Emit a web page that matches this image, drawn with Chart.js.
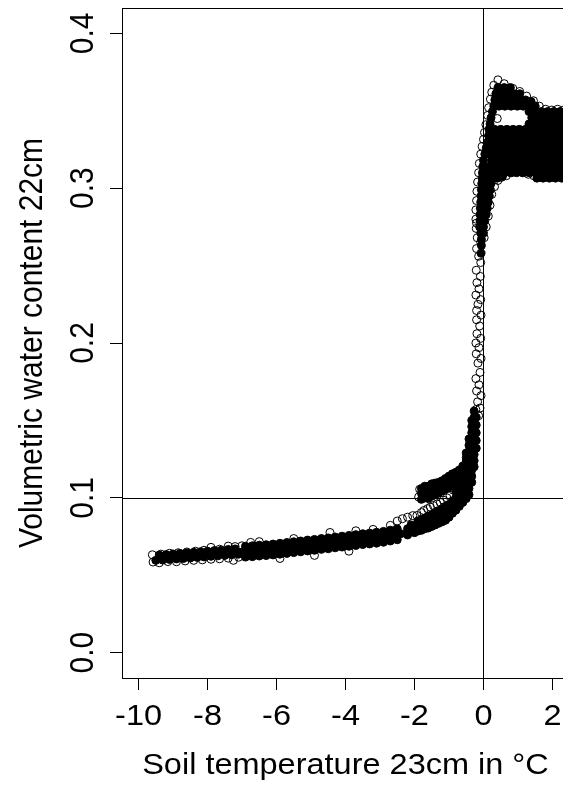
<!DOCTYPE html>
<html>
<head>
<meta charset="utf-8">
<script src="https://cdn.jsdelivr.net/npm/chart.js@4/dist/chart.umd.min.js"></script>
<style>
  html, body { margin: 0; padding: 0; background: #fff; overflow: hidden; }
  #wrap { width: 600px; height: 789px; }
</style>
</head>
<body>
<div id="wrap"><canvas id="c" width="600" height="789"></canvas></div>
<script>
// Axis ticks and titles
const xTicks = [-10, -8, -6, -4, -2, 0, 2];
const yTicks = [0, 0.1, 0.2, 0.3, 0.4];
const yTickLabels = ['0.0', '0.1', '0.2', '0.3', '0.4'];
const xTitle = 'Soil temperature 23cm in °C';
const yTitle = 'Volumetric water content 22cm';
const refTemp = 0;    // freezing point
const refVwc = 0.1;   // reference water content

// Dense runs of overlapping observations [temperature, water content]
const frozenBand = [
  [-9.5,.0596],[-9.3,.0598],[-9.1,.0602],[-8.9,.0605],[-8.7,.0608],[-8.5,.0611],[-8.3,.0615],[-8.1,.0618],
  [-7.9,.0622],[-7.7,.0625],[-7.5,.0628],[-7.3,.0632],[-7.1,.0636],
  [-9.4,.0630],[-9.2,.0633],[-9.0,.0637],[-8.8,.0641],[-8.6,.0644],[-8.4,.0648],[-8.2,.0652],[-8.0,.0655],
  [-7.8,.0659],[-7.6,.0662],[-7.4,.0666],[-7.2,.0670],
  [-7.0,.0650],[-6.8,.0654],[-6.6,.0657],[-6.4,.0661],[-6.2,.0664],[-6.0,.0668],[-5.8,.0673],[-5.6,.0678],
  [-5.4,.0684],[-5.2,.0689],[-5.0,.0694],[-4.8,.0699],[-4.6,.0704],[-4.4,.0709],[-4.2,.0715],[-4.0,.0720],
  [-3.8,.0725],[-3.6,.0730],[-3.4,.0735],[-3.2,.0740],[-3.0,.0745],[-2.8,.0752],[-2.6,.0760],[-2.4,.0768],
  [-6.9,.0687],[-6.7,.0690],[-6.5,.0694],[-6.3,.0697],[-6.1,.0701],[-5.9,.0706],[-5.7,.0711],[-5.5,.0716],
  [-5.3,.0721],[-5.1,.0727],[-4.9,.0731],[-4.7,.0737],[-4.5,.0741],[-4.3,.0747],[-4.1,.0752],[-3.9,.0757],
  [-3.7,.0762],[-3.5,.0768],[-3.3,.0772],[-3.1,.0777],[-2.9,.0783],[-2.7,.0791],[-2.5,.0799],
  [-6.9,.0617],[-6.7,.0620],[-6.5,.0624],[-6.3,.0627],[-6.1,.0631],[-5.9,.0636],[-5.7,.0641],[-5.5,.0646],
  [-5.3,.0651],[-5.1,.0657],[-4.9,.0661],[-4.7,.0667],[-4.5,.0671],[-4.3,.0677],[-4.1,.0682],[-3.9,.0687],
  [-3.7,.0692],[-3.5,.0698],[-3.3,.0702],[-3.1,.0707],[-2.9,.0713],[-2.7,.0721],[-2.5,.0729]
];

const freezingKnee = [
  [-2.2,.076],[-2.2,.080],[-2.1,.078],[-2.1,.0825],[-2.0,.0775],[-2.0,.0815],
  [-1.9,.0785],[-1.9,.0825],[-1.9,.085],
  [-1.8,.079],[-1.8,.083],[-1.8,.086],[-1.8,.099],[-1.8,.103],[-1.8,.106],
  [-1.7,.080],[-1.7,.084],[-1.7,.087],[-1.7,.100],[-1.7,.104],[-1.7,.1075],
  [-1.6,.0805],[-1.6,.0845],[-1.6,.088],[-1.6,.0995],[-1.6,.1035],[-1.6,.1075],
  [-1.5,.0815],[-1.5,.0855],[-1.5,.089],[-1.5,.101],[-1.5,.105],[-1.5,.109],
  [-1.4,.0825],[-1.4,.0865],[-1.4,.0905],[-1.4,.102],[-1.4,.106],[-1.4,.1095],
  [-1.3,.0835],[-1.3,.0875],[-1.3,.0915],[-1.3,.103],[-1.3,.107],[-1.3,.110],
  [-1.2,.0845],[-1.2,.0885],[-1.2,.093],[-1.2,.1045],[-1.2,.108],[-1.2,.111],
  [-1.1,.0855],[-1.1,.0895],[-1.1,.0945],[-1.1,.1055],[-1.1,.1095],[-1.1,.1125],
  [-1.0,.0875],[-1.0,.0915],[-1.0,.0955],[-1.0,.107],[-1.0,.1105],[-1.0,.114],
  [-0.9,.090],[-0.9,.094],[-0.9,.098],[-0.9,.1085],[-0.9,.1125],[-0.9,.1155],
  [-0.8,.092],[-0.8,.096],[-0.8,.100],[-0.8,.104],[-0.8,.108],[-0.8,.112],[-0.8,.1165],
  [-0.7,.0945],[-0.7,.0985],[-0.7,.1025],[-0.7,.1065],[-0.7,.1105],[-0.7,.1145],[-0.7,.118],
  [-0.6,.097],[-0.6,.101],[-0.6,.105],[-0.6,.109],[-0.6,.113],[-0.6,.117],[-0.6,.1205],
  [-0.5,.0995],[-0.5,.1035],[-0.5,.1075],[-0.5,.1115],[-0.5,.1155],[-0.5,.1195],[-0.5,.1235],[-0.5,.126],[-0.5,.129],
  [-0.42,.102],[-0.42,.106],[-0.42,.110],[-0.42,.114],[-0.42,.118],[-0.42,.122],[-0.42,.126],[-0.42,.130],[-0.42,.134],[-0.42,.138],
  [-0.34,.110],[-0.34,.114],[-0.34,.118],[-0.34,.122],[-0.34,.126],[-0.34,.130],[-0.34,.134],[-0.34,.138],[-0.34,.142],[-0.34,.146],[-0.34,.150],
  [-0.27,.120],[-0.27,.124],[-0.27,.128],[-0.27,.132],[-0.27,.136],[-0.27,.140],[-0.27,.144],[-0.27,.148],[-0.27,.152],[-0.27,.156],
  [-0.21,.132],[-0.21,.137],[-0.21,.142],[-0.21,.147],[-0.21,.152]
];

const thawedCluster = [
  [0.42,.365],[0.60,.365],[0.78,.365],
  [0.36,.361],[0.52,.361],[0.70,.361],[0.88,.361],[1.05,.361],
  [0.33,.357],[0.50,.357],[0.68,.357],[0.86,.357],[1.04,.357],[1.22,.357],[1.38,.356],
  [0.30,.353],[0.45,.353],[0.62,.353],[0.80,.353],[0.98,.353],[1.15,.353],[1.32,.353],[1.50,.353],
  [0.26,.3495],[1.32,.3495],[1.50,.3495],[1.68,.3495],[1.86,.3495],[2.04,.3495],[2.22,.3495],[2.40,.3495],
  [0.22,.3455],[1.40,.3455],[1.58,.3455],[1.76,.3455],[1.94,.3455],[2.12,.3455],[2.30,.3455],[2.48,.3455],
  [0.19,.3415],[1.32,.3415],[1.50,.3415],[1.68,.3415],[1.86,.3415],[2.04,.3415],[2.22,.3415],[2.40,.3415],
  [0.16,.338],[0.32,.338],[0.50,.338],[0.68,.338],[0.86,.338],[1.04,.338],[1.22,.338],[1.40,.338],[1.58,.338],[1.76,.338],[1.94,.338],[2.12,.338],[2.30,.338],[2.48,.338],
  [0.15,.334],[0.25,.334],[0.42,.334],[0.60,.334],[0.78,.334],[0.96,.334],[1.14,.334],[1.32,.334],[1.50,.334],[1.68,.334],[1.86,.334],[2.04,.334],[2.22,.334],[2.40,.334],
  [0.13,.330],[0.33,.330],[0.51,.330],[0.69,.330],[0.87,.330],[1.05,.330],[1.23,.330],[1.41,.330],[1.59,.330],[1.77,.330],[1.95,.330],[2.13,.330],[2.31,.330],[2.49,.330],
  [0.08,.326],[0.24,.326],[0.42,.326],[0.60,.326],[0.78,.326],[0.96,.326],[1.14,.326],[1.32,.326],[1.50,.326],[1.68,.326],[1.86,.326],[2.04,.326],[2.22,.326],[2.40,.326],
  [0.04,.322],[0.15,.322],[0.33,.322],[0.51,.322],[0.69,.322],[0.87,.322],[1.05,.322],[1.23,.322],[1.41,.322],[1.59,.322],[1.77,.322],[1.95,.322],[2.13,.322],[2.31,.322],[2.49,.322],
  [0.00,.318],[0.24,.318],[0.42,.318],[0.60,.318],[0.78,.318],[0.96,.318],[1.14,.318],[1.32,.318],[1.50,.318],[1.68,.318],[1.86,.318],[2.04,.318],[2.22,.318],[2.40,.318],
  [-0.02,.314],[0.15,.314],[0.33,.314],[0.51,.314],[0.69,.314],[0.87,.314],[1.05,.314],[1.23,.314],[1.41,.314],[1.59,.314],[1.77,.314],[1.95,.314],[2.13,.314],[2.31,.314],[2.49,.314],
  [-0.03,.310],[0.10,.310],[0.24,.310],[0.42,.310],[0.60,.310],[0.78,.310],[0.96,.310],[1.14,.310],[1.32,.310],[1.50,.310],[1.68,.310],[1.86,.310],[2.04,.310],[2.22,.310],[2.40,.310],
  [-0.04,.3065],[0.10,.3065],[0.25,.3065],[0.40,.3065],[0.55,.3075],[1.55,.3065],[1.73,.3065],[1.91,.3065],[2.09,.3065],[2.27,.3065],[2.45,.3065],
  [-0.05,.303],[0.10,.303],[0.22,.303],
  [-0.06,.299],[0.08,.299],[0.20,.299],
  [-0.07,.295],[0.05,.295],[0.17,.295],
  [-0.08,.291],[0.03,.291],[0.14,.291],
  [-0.09,.287],[0.00,.287],[0.11,.287],
  [-0.10,.283],[-0.02,.283],[0.08,.283],
  [-0.10,.279],[0.04,.279],
  [-0.11,.275],[0.00,.275],
  [-0.08,.271],[0.00,.271],
  [-0.06,.267],[-0.06,.263],[-0.07,.258]
];

// Individually visible observations (open circles)
const bandEdges = [
  [-9.6,.0632],[-9.35,.0636],[-9.1,.0642],[-8.85,.0645],[-8.6,.0650],[-8.35,.0655],[-8.1,.0661],[-7.9,.0680],
  [-7.65,.0668],[-7.4,.0688],[-7.2,.0685],[-7.0,.0690],[-6.75,.0712],[-6.5,.0717],[-5.5,.0737],[-4.45,.0776],
  [-3.7,.0787],[-3.2,.0796],
  [-9.58,.0585],[-9.4,.0580],[-9.15,.0588],[-8.9,.0587],[-8.65,.0592],[-8.4,.0596],[-8.15,.0599],[-7.9,.0603],
  [-7.65,.0606],[-7.25,.0596],[-7.4,.0610],[-7.1,.0616],[-5.9,.0608],[-4.9,.0628],[-3.9,.0655]
];

const kneeStreak = [
  [-2.7,.0822],[-2.5,.0850],[-2.35,.0865],[-2.2,.0875],[-2.05,.0885],[-1.93,.0886],[-1.8,.0905],[-1.73,.0918],
  [-1.62,.0930],[-1.54,.0940],[-1.45,.0950],[-1.35,.0960],[-1.25,.0970],[-1.16,.0985],[-1.06,.1000],
  [-0.97,.1016],[-0.88,.1050],[-1.88,.1005],[-1.85,.1055]
];

const thawRise = [
  [-0.20,.2775],[-0.08,.265],[-0.20,.261],[-0.14,.256],[-0.08,.252],[-0.21,.247],[-0.09,.243],[-0.19,.239],
  [-0.13,.235],[-0.22,.231],[-0.08,.228],[-0.16,.225],[-0.20,.221],[-0.07,.218],[-0.20,.215],[-0.11,.211],
  [-0.19,.206],[-0.08,.203],[-0.22,.200],[-0.13,.197],[-0.21,.193],[-0.07,.190],[-0.16,.187],[-0.10,.181],
  [-0.22,.177],[-0.13,.173],[-0.20,.169],[-0.07,.166],[-0.17,.162],[-0.10,.158],[-0.22,.157],[-0.14,.153]
];

const clusterEdges = [
  [0.42,.370],[0.30,.3665],[0.60,.3675],[0.85,.3645],[1.05,.3625],[1.25,.3595],[1.45,.3565],[1.62,.353],
  [1.80,.351],[1.98,.3505],[2.15,.351],[2.32,.3505],[2.48,.351],
  [0.24,.362],[0.20,.3575],[0.15,.352],[0.12,.347],[0.07,.341],[0.03,.336],[0.00,.3315],[-0.04,.327],
  [-0.08,.322],[-0.12,.316],[-0.14,.310],[-0.17,.304],[-0.19,.298],[-0.20,.292],[-0.22,.286],[-0.22,.280],
  [-0.21,.274],[-0.18,.268],
  [0.40,.345],
  [0.02,.268],[0.08,.275],[0.14,.282],[0.19,.289],[0.24,.296],[0.32,.301],[0.42,.305],[0.52,.307],
  [0.66,.308],[0.82,.310],[0.98,.311],[1.14,.310],[1.30,.309],[1.46,.308],[1.64,.307],[1.82,.3075],
  [2.00,.307],[2.18,.308],[2.36,.3075]
];

const toPoints = rows => rows.map(([t, w]) => ({ x: t, y: w }));

const TEXT_FONT = '30px "Liberation Sans", Arial, sans-serif';
const STRETCH = 1.083;

function drawLabel(ctx, text, x, y, vertical) {
  ctx.save();
  ctx.translate(x, y);
  ctx.scale(STRETCH, 1);
  if (vertical) ctx.rotate(-Math.PI / 2);
  ctx.fillText(text, 0, 0);
  ctx.restore();
}

// Box, reference lines and all axis text
const framePlugin = {
  id: 'frame',
  afterDatasetsDraw(chart) {
    const { ctx, chartArea: a, scales: { x, y } } = chart;
    ctx.save();
    ctx.strokeStyle = '#000';
    ctx.lineWidth = 1;
    const px = Math.round(x.getPixelForValue(refTemp)) + 0.5;
    const py = Math.round(y.getPixelForValue(refVwc)) + 0.5;
    ctx.beginPath();
    ctx.moveTo(px, a.top); ctx.lineTo(px, a.bottom);
    ctx.moveTo(a.left, py); ctx.lineTo(a.right, py);
    ctx.stroke();
    ctx.strokeRect(Math.round(a.left) + 0.5, Math.round(a.top) + 0.5,
                   Math.round(a.right - a.left), Math.round(a.bottom - a.top));

    ctx.fillStyle = '#000';
    ctx.font = TEXT_FONT;
    ctx.textAlign = 'center';
    ctx.textBaseline = 'alphabetic';
    xTicks.forEach(v => drawLabel(ctx, String(v), x.getPixelForValue(v), 725, false));
    yTicks.forEach((v, i) => drawLabel(ctx, yTickLabels[i], 92.5, y.getPixelForValue(v), true));
    drawLabel(ctx, xTitle, (a.left + a.right) / 2, 773.5, false);
    drawLabel(ctx, yTitle, 42, (a.top + a.bottom) / 2, true);
    ctx.restore();
  }
};

const denseStyle = { pointRadius: 4, pointBorderWidth: 1, pointBorderColor: '#000', pointBackgroundColor: '#000' };
const openStyle  = { pointRadius: 4, pointBorderWidth: 1, pointBorderColor: '#000', pointBackgroundColor: 'rgba(0,0,0,0)' };

const axisGrid = { drawOnChartArea: false, drawTicks: true, tickLength: 12, tickColor: '#000', tickWidth: 1 };

new Chart(document.getElementById('c'), {
  type: 'scatter',
  data: {
    datasets: [
      { label: 'dense', data: toPoints([...frozenBand, ...freezingKnee, ...thawedCluster]), ...denseStyle },
      { label: 'single', data: toPoints([...bandEdges, ...kneeStreak, ...thawRise, ...clusterEdges]), ...openStyle }
    ]
  },
  options: {
    responsive: false,
    animation: false,
    devicePixelRatio: 1,
    events: [],
    layout: { padding: { left: 0, right: 31, top: 8, bottom: 0 } },
    plugins: { legend: { display: false }, tooltip: { enabled: false } },
    scales: {
      x: {
        type: 'linear',
        min: -10.48, max: 2.48,
        afterBuildTicks: s => { s.ticks = xTicks.map(v => ({ value: v })); },
        afterFit: s => { s.height = 111; },
        ticks: { display: false },
        grid: axisGrid,
        border: { display: false }
      },
      y: {
        type: 'linear',
        min: -0.0164, max: 0.4164,
        afterBuildTicks: s => { s.ticks = yTicks.map(v => ({ value: v })); },
        afterFit: s => { s.width = 122; },
        ticks: { display: false },
        grid: axisGrid,
        border: { display: false }
      }
    }
  },
  plugins: [framePlugin]
});
</script>
</body>
</html>
